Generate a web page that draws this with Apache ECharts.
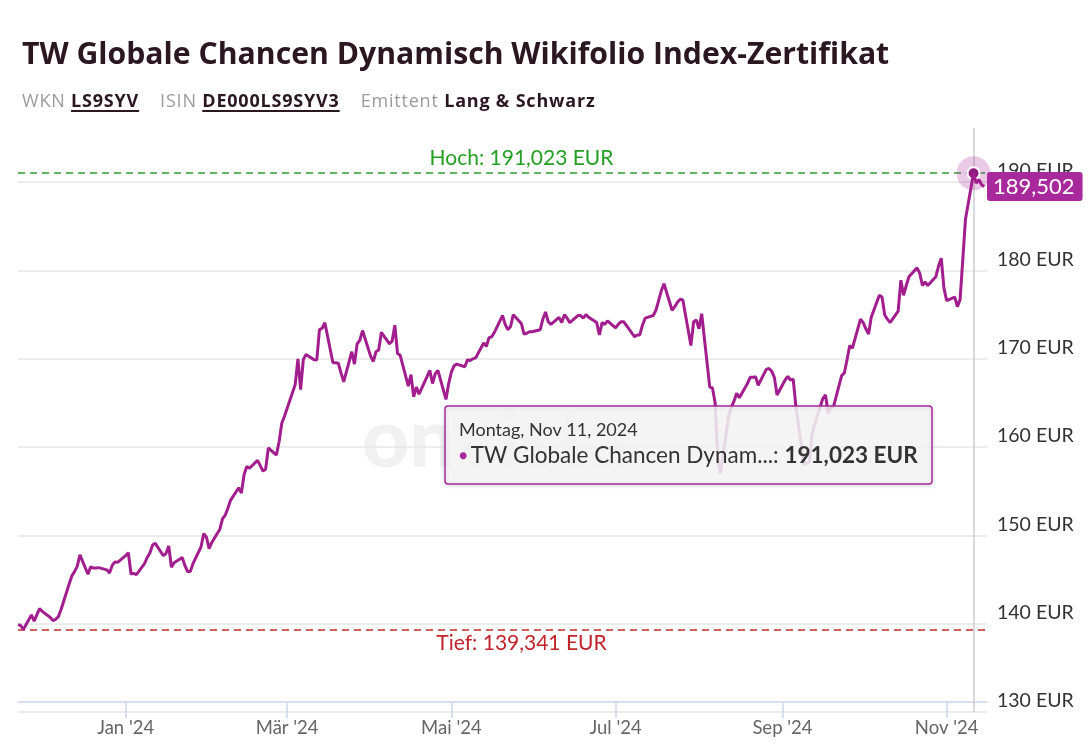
<!DOCTYPE html>
<html>
<head>
<meta charset="utf-8">
<script src="https://cdn.jsdelivr.net/npm/echarts@6/dist/echarts.min.js"></script>
<style>
html,body{margin:0;padding:0;background:#fff;}
#wrap{position:relative;width:1091px;height:750px;overflow:hidden;background:#fff;}
#chart{position:absolute;left:0;top:0;width:1091px;height:750px;}
#title{position:absolute;left:22px;top:32px;font-family:'Open Sans',sans-serif;font-weight:700;font-size:30.2px;color:#2b1720;white-space:nowrap;z-index:2;}
#sub{position:absolute;left:22px;top:88px;font-family:'Open Sans',sans-serif;font-size:18px;letter-spacing:0.8px;color:#9b9b9b;white-space:nowrap;z-index:2;}
#sub .v{color:#2b1720;font-weight:700;}
#sub .u{text-decoration:underline;text-decoration-thickness:1.5px;text-underline-offset:3px;}
#sub .g{display:inline-block;width:21px;}
</style>
</head>
<body>
<div id="wrap">
  <div id="chart"></div>
  <div id="title">TW Globale Chancen Dynamisch Wikifolio Index-Zertifikat</div>
  <div id="sub">WKN <span class="v u">LS9SYV</span><span class="g"></span>ISIN <span class="v u">DE000LS9SYV3</span><span class="g"></span>Emittent <span class="v">Lang &amp; Schwarz</span></div>
</div>
<script>
// ---- data ----
const seriesName = 'TW Globale Chancen Dynamisch Wikifolio Index-Zertifikat';
const startDate = [2023, 10, 22];          // first trading day (Nov 22, 2023)
const axisMinDate = [2023, 10, 22];
const axisMaxDate = [2024, 10, 16];
const values = [
  139.9,139.8,139.341,141.0,140.3,141.0,141.7,141.4,140.7,140.35,
  140.5,140.8,141.6,144.5,145.4,145.9,146.5,147.8,145.6,146.45,
  146.3,146.3,146.35,146.1,145.75,146.6,147.0,146.95,147.7,148.04,
  145.63,145.7,145.55,146.8,147.5,148.0,148.9,149.1,147.7,147.97,
  148.8,146.4,146.9,147.5,146.6,145.9,145.9,146.8,148.7,150.2,
  149.8,148.5,149.2,150.7,151.9,152.3,153.1,154.0,155.4,154.8,
  156.9,157.8,157.6,158.5,157.9,157.3,157.5,159.9,159.1,160.6,
  162.7,163.5,164.4,167.1,170.0,166.5,169.9,170.5,169.9,169.86,
  173.3,173.46,174.09,169.56,169.56,169.5,168.4,167.4,170.8,169.4,
  171.7,172.1,173.2,170.3,169.7,170.8,171.0,173.0,171.7,172.0,
  173.8,170.6,170.4,166.9,168.2,165.7,166.8,166.0,168.0,168.7,
  167.2,168.3,168.7,165.4,167.2,168.5,169.2,169.4,169.1,169.9,
  169.8,170.0,170.1,171.8,171.4,172.4,172.5,173.0,174.9,173.9,
  173.3,173.65,175.0,174.0,172.8,172.9,173.07,173.07,173.3,174.5,
  175.3,174.2,173.9,174.7,174.1,175.0,174.6,174.1,174.9,174.9,
  174.6,175.0,174.7,174.1,172.7,174.1,173.9,174.3,173.5,173.9,
  174.2,174.2,173.8,172.5,172.7,172.7,173.8,174.6,174.9,175.5,
  176.6,177.7,178.5,175.5,175.9,176.4,176.74,176.66,171.5,174.2,
  174.4,173.4,175.1,166.8,166.7,165.0,158.5,157.0,163.5,164.5,
  165.2,166.1,165.6,167.2,167.9,167.9,167.97,167.0,168.8,168.9,
  168.6,167.9,165.9,167.6,168.0,167.6,167.7,164.6,158.0,158.2,
  158.35,161.5,162.6,165.5,165.9,163.8,164.5,164.6,168.1,168.4,
  169.9,171.5,171.2,174.5,174.1,173.4,172.8,174.7,177.2,177.0,
  174.96,174.5,174.1,175.4,178.9,177.2,178.3,179.3,180.3,179.7,
  178.3,178.7,178.3,179.3,180.5,181.4,178.0,176.6,177.0,175.9,
  176.7,181.2,185.8,191.023,189.9,190.3,189.7,189.502
];
const tickDates = [[2024,0,1],[2024,2,1],[2024,4,1],[2024,6,1],[2024,8,1],[2024,10,1]];
const tickLabels = ["Jan '24", "Mär '24", "Mai '24", "Jul '24", "Sep '24", "Nov '24"];
const yMin = 130, yMax = 196.14, yStep = 10;
const weekdayNames = ['Sonntag','Montag','Dienstag','Mittwoch','Donnerstag','Freitag','Samstag'];
const monthNames = ['Jan','Feb','Mar','Apr','May','Jun','Jul','Aug','Sep','Oct','Nov','Dec'];

// ---- build ----
const FONT = 'Lato, sans-serif';
const mk = a => new Date(a[0], a[1], a[2]).getTime();
const dates = [];
{
  const d = new Date(startDate[0], startDate[1], startDate[2]);
  while (dates.length < values.length) {
    const wd = d.getDay();
    if (wd !== 0 && wd !== 6) dates.push(d.getTime());
    d.setDate(d.getDate() + 1);
  }
}
const data = values.map((v, i) => [dates[i], v]);
const tickTimes = tickDates.map(mk);
const fmt = v => v.toFixed(3).replace('.', ',');
const maxVal = Math.max(...values);
const minVal = Math.min(...values);
const idxMax = values.indexOf(maxVal);
const lastVal = values[values.length - 1];
const dMax = new Date(dates[idxMax]);
const tipDate = weekdayNames[dMax.getDay()] + ', ' + monthNames[dMax.getMonth()] + ' ' + dMax.getDate() + ', ' + dMax.getFullYear();

const LINE = '#a21e8e';
const BOX = '#a8299b';

const chart = echarts.init(document.getElementById('chart'), null, {renderer: 'canvas'});
chart.setOption({
  animation: false,
  backgroundColor: '#fff',
  grid: {left: 18, right: 104, top: 128, bottom: 38, containLabel: false},
  xAxis: {
    type: 'value',
    min: mk(axisMinDate),
    max: mk(axisMaxDate),
    offset: -10,
    axisLine: {show: true, lineStyle: {color: '#ccd6eb', width: 1.5}},
    axisTick: {show: true, length: 16, lineStyle: {color: '#ccd6eb', width: 1.5}, customValues: tickTimes},
    axisLabel: {
      customValues: tickTimes,
      margin: 17,
      color: '#666',
      fontFamily: FONT,
      fontSize: 18.5,
      formatter: v => { const k = tickTimes.indexOf(v); return k >= 0 ? tickLabels[k] : ''; }
    },
    splitLine: {show: false}
  },
  yAxis: {
    type: 'value',
    position: 'right',
    min: yMin, max: yMax, interval: yStep,
    axisLine: {show: false},
    axisTick: {show: false},
    splitLine: {show: true, showMaxLine: false, lineStyle: {color: '#e6e6e6', width: 1.5}},
    axisLabel: {
      showMaxLabel: false,
      margin: 10,
      color: '#333',
      fontFamily: FONT,
      fontSize: 19.5,
      verticalAlign: 'bottom',
      padding: [0, 0, 1, 0],
      formatter: v => v + ' EUR'
    }
  },
  graphic: [
    {type: 'text', z: 0, silent: true, x: 362, y: 400,
      style: {text: 'onvista', fontFamily: FONT, fontWeight: 900, fontSize: 82, fill: '#f1f1f1'}},
    {type: 'rect', z: 100, silent: true,
      shape: {x: 445, y: 406, width: 487, height: 78, r: 3},
      style: {fill: 'rgba(247,247,247,0.86)', stroke: BOX, lineWidth: 1.5,
        shadowBlur: 4, shadowColor: 'rgba(0,0,0,0.15)', shadowOffsetY: 1}},
    {type: 'text', z: 101, silent: true, x: 459, y: 421,
      style: {text: tipDate, fontFamily: FONT, fontSize: 18, fill: '#333'}},
    {type: 'text', z: 101, silent: true, x: 459, y: 444,
      style: {
        text: '{d|●} {n|TW Globale Chancen Dynam...: }{v|' + fmt(maxVal) + ' EUR}',
        rich: {
          d: {fill: BOX, fontSize: 14, fontFamily: FONT, verticalAlign: 'middle'},
          n: {fill: '#333', fontSize: 22.5, fontFamily: FONT},
          v: {fill: '#333', fontSize: 22.5, fontFamily: FONT, fontWeight: 'bold'}
        }
      }}
  ],
  series: [{
    name: seriesName,
    type: 'line',
    data: data,
    showSymbol: false,
    symbol: 'none',
    lineStyle: {color: LINE, width: 3},
    itemStyle: {color: LINE},
    clip: false,
    z: 5,
    markLine: {
      silent: true,
      symbol: ['none', 'none'],
      animation: false,
      precision: 3,
      data: [
        {xAxis: dates[idxMax],
          lineStyle: {color: '#cccccc', type: 'solid', width: 1.5},
          label: {show: false}},
        {yAxis: maxVal, name: 'Hoch',
          lineStyle: {color: '#2ea02e', type: [7, 5], width: 1.5},
          label: {show: true, position: 'insideMiddleTop', distance: 4,
            padding: [0, 0, 0, 38],
            color: '#23a023', fontFamily: FONT, fontSize: 21,
            formatter: () => 'Hoch: ' + fmt(maxVal) + ' EUR'}},
        {yAxis: minVal, name: 'Tief',
          lineStyle: {color: '#c62a2a', type: [7, 5], width: 1.5},
          label: {show: true, position: 'insideMiddleBottom', distance: 3,
            padding: [0, 0, 0, 38],
            color: '#c0242b', fontFamily: FONT, fontSize: 21,
            formatter: () => 'Tief: ' + fmt(minVal) + ' EUR'}},
        {yAxis: lastVal,
          lineStyle: {color: 'rgba(0,0,0,0)', width: 0},
          label: {show: true, position: 'end', distance: 0,
            backgroundColor: BOX, color: '#fff', fontFamily: FONT, fontSize: 22,
            padding: [4, 8, 3, 6], borderRadius: 3,
            formatter: () => fmt(lastVal)}}
      ]
    },
    markPoint: {
      silent: true,
      animation: false,
      label: {show: false},
      data: [
        {type: 'max', symbol: 'circle', symbolSize: 34,
          itemStyle: {color: 'rgba(168,41,155,0.25)'}},
        {type: 'max', symbol: 'circle', symbolSize: 12,
          itemStyle: {color: '#8f1d7f', borderColor: '#fff', borderWidth: 2}}
      ]
    }
  }]
});
</script>
</body>
</html>
